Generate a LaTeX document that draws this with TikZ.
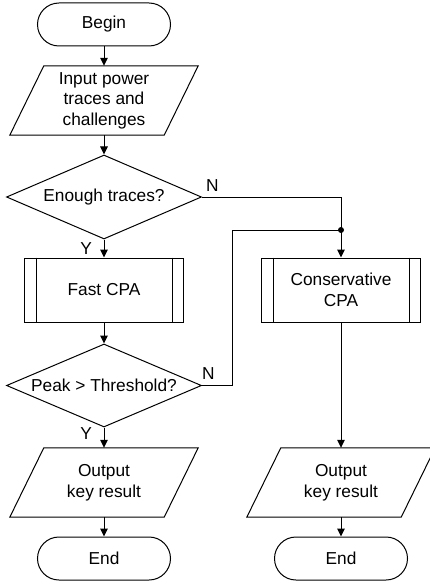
\documentclass[tikz,border=0pt]{standalone}
\usepackage{fontspec}
\setmainfont{Liberation Sans}
\usetikzlibrary{shapes.geometric,arrows.meta}
\newcommand\iopara[1]{\draw[conn] (#1.south west) -- ([xshift=34pt]#1.north west) -- (#1.north east) -- ([xshift=-34pt]#1.south east) -- cycle;}
\newcommand\procbars[1]{\draw[conn] ([xshift=12pt]#1.north west) -- ([xshift=12pt]#1.south west) ([xshift=-12pt]#1.north east) -- ([xshift=-12pt]#1.south east);}
\begin{document}
\begin{tikzpicture}[x=1pt,y=-1pt,
  every node/.style={font=\fontsize{17.3pt}{20.5pt}\selectfont},
  base/.style={draw=black, line width=1pt, align=center, inner sep=0pt},
  term/.style={base, rectangle, rounded corners=21.5pt, minimum width=133pt, minimum height=43pt},
  io/.style={rectangle, align=center, inner sep=0pt, minimum width=188pt, minimum height=69pt},
  proc/.style={base, rectangle, minimum width=159pt, minimum height=64pt},
  dec/.style={base, diamond, shape aspect=2.3, minimum width=195pt, minimum height=84pt},
  conn/.style={line width=1pt, draw=black},
  arrow/.style={conn, -{Triangle[length=8pt,width=7.5pt]}},
  lbl/.style={inner sep=0pt},
]
\useasboundingbox (0,0) rectangle (430,585);

\node[term] (begin) at (104,24.5) {Begin};
\node[io] (in) at (104,100.5) {Input power\\traces and\\challenges};
\node[dec] (d1) at (104,197) {Enough traces?};
\node[proc] (fast) at (104,290) {Fast CPA};
\node[dec, minimum height=83pt] (d2) at (104,385.5) {Peak > Threshold?};
\node[io] (out1) at (104,482.5) {Output\\key result};
\node[term] (end1) at (104,558.5) {End};
\node[proc] (cons) at (341,290) {Conservative\\CPA};
\node[io] (out2) at (341,482.5) {Output\\key result};
\node[term] (end2) at (341,558.5) {End};

\iopara{in}
\iopara{out1}
\iopara{out2}
\procbars{fast}
\procbars{cons}

\draw[arrow] (begin.south) -- (in.north);
\draw[arrow] (in.south) -- (d1.north);
\draw[arrow] (d1.south) -- (fast.north);
\draw[arrow] (fast.south) -- (d2.north);
\draw[arrow] (d2.south) -- (out1.north);
\draw[arrow] (out1.south) -- (end1.north);
\draw[arrow] (d1.east) -| (cons.north);
\coordinate (jn) at (341,230);
\draw[conn] (d2.east) -- ++(30,0) |- (jn);
\fill (jn) circle (3pt);
\draw[arrow] (cons.south) -- (out2.north);
\draw[arrow] (out2.south) -- (end2.north);

\node[lbl, anchor=base west] (n1) at ([xshift=4pt,yshift=6pt]d1.east) {N};
\node[lbl, anchor=base west] (n2) at ([xshift=0pt,yshift=6pt]d2.east) {N};
\node[lbl, anchor=base east] (y1) at ([xshift=-12pt,yshift=-15pt]d1.south) {Y};
\node[lbl, anchor=base east] (y2) at ([xshift=-12pt,yshift=-11.5pt]d2.south) {Y};
\end{tikzpicture}
\end{document}
